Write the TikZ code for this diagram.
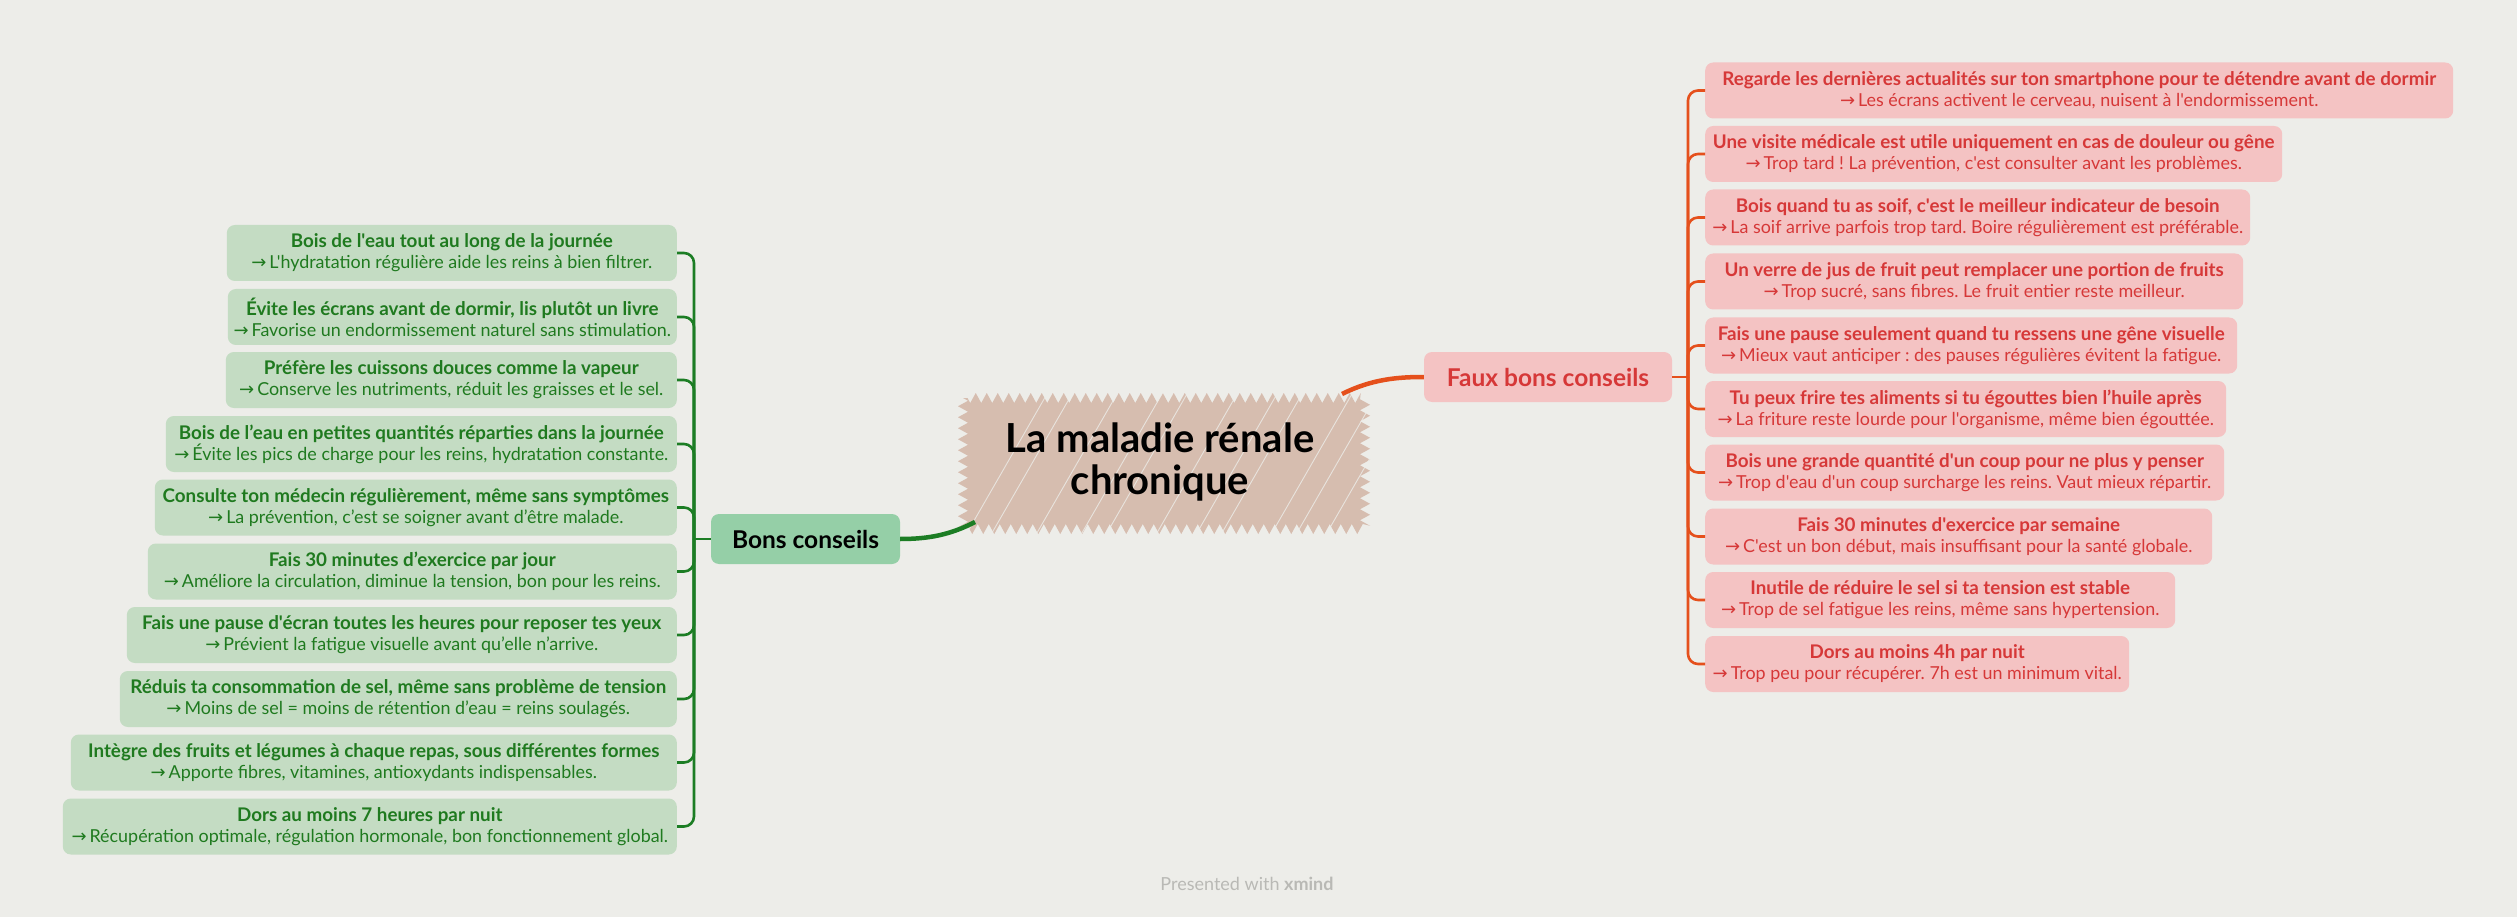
\documentclass[tikz,border=0pt]{standalone}
\usepackage{fontspec}
\setmainfont{Lato}[Ligatures=TeXOff]
\newfontfamily\arrfont{DejaVu Sans}
\usetikzlibrary{decorations.pathmorphing,calc}
\definecolor{bgc}{HTML}{EDEDE9}
\definecolor{gfill}{HTML}{C4DCC3}
\definecolor{gtext}{HTML}{1F7A1F}
\definecolor{bonsfill}{HTML}{95CFA7}
\definecolor{gline}{HTML}{1C7D24}
\definecolor{rfill}{HTML}{F4C3C3}
\definecolor{rtext}{HTML}{D63838}
\definecolor{rline}{HTML}{E5501C}
\definecolor{topicfill}{HTML}{D6BDAF}
\definecolor{footc}{HTML}{B9B9B5}
\frenchspacing
\newcommand{\arr}{{\arrfont\fontsize{18}{21}\selectfont →}}
\newcommand{\lv}[2]{{\fontsize{18.8}{21}\selectfont\bfseries #1}\\\arr\,#2}
\begin{document}
\begin{tikzpicture}[x=1pt,y=-1pt,
  leaf/.style={rounded corners=8pt, minimum height=56pt, inner sep=0pt, align=center,
    font=\fontsize{17.9}{21}\selectfont},
  gleaf/.style={leaf, fill=gfill, text=gtext, anchor=east},
  rleaf/.style={leaf, fill=rfill, text=rtext, anchor=west},
  mainbr/.style={rounded corners=8pt, minimum height=50pt, inner sep=0pt,
    font=\fontsize{24.5}{28}\selectfont\bfseries},
  gconn/.style={draw=gline, line width=2.6pt, rounded corners=10pt},
  rconn/.style={draw=rline, line width=2.6pt, rounded corners=10pt},
  gmain/.style={draw=gline, line width=4.5pt},
  rmain/.style={draw=rline, line width=4.5pt},
]
\useasboundingbox (0,0) rectangle (2517,917);
\fill[bgc] (0,0) rectangle (2517,917);

% central topic scribble
\fill[topicfill, decorate, decoration={zigzag, segment length=11pt, amplitude=5pt}]
  (963,398) rectangle (1365,529);
\begin{scope}
  \clip (955,390) rectangle (1375,537);
  \foreach \x in {960,985,1030,1075,1100,1150,1190,1215,1265,1290,1320}
    \draw[bgc, line width=0.9pt, opacity=0.8] (\x,545) -- ++(95,-165);
\end{scope}
\node[align=center, font=\fontsize{40}{42}\selectfont\bfseries, text=black]
  (topic) at (1160,462) {La maladie rénale\\chronique};

% main branches
\node[mainbr, fill=bonsfill, text=black, minimum width=189pt] (bons) at (805.5,539) {Bons conseils};
\node[mainbr, fill=rfill, text=rtext, minimum width=248pt] (faux) at (1548,377) {Faux bons conseils};

\coordinate (tg) at (975,522);
\coordinate (tr) at (1342,394);
\draw[gmain] (tg) .. controls (950,535) and (928,539) .. (bons.east);
\draw[rmain] (tr) .. controls (1372,379) and (1398,377) .. (faux.west);

% green leaves
\node[gleaf, minimum width=450pt] (g1) at (677,253) {\lv{Bois de l'eau tout au long de la journée}{L'hydratation régulière aide les reins à bien filtrer.}};
\node[gleaf, minimum width=449pt] (g2) at (677,317) {\lv{Évite les écrans avant de dormir, lis plutôt un livre}{Favorise un endormissement naturel sans stimulation.}};
\node[gleaf, minimum width=451pt] (g3) at (677,380) {\lv{Préfère les cuissons douces comme la vapeur}{Conserve les nutriments, réduit les graisses et le sel.}};
\node[gleaf, minimum width=511pt] (g4) at (677,444) {\lv{Bois de l’eau en petites quantités réparties dans la journée}{Évite les pics de charge pour les reins, hydratation constante.}};
\node[gleaf, minimum width=522pt] (g5) at (677,507.5) {\lv{Consulte ton médecin régulièrement, même sans symptômes}{La prévention, c’est se soigner avant d’être malade.}};
\node[gleaf, minimum width=529pt] (g6) at (677,571.5) {\lv{Fais 30 minutes d’exercice par jour}{Améliore la circulation, diminue la tension, bon pour les reins.}};
\node[gleaf, minimum width=550pt] (g7) at (677,635) {\lv{Fais une pause d'écran toutes les heures pour reposer tes yeux}{Prévient la fatigue visuelle avant qu’elle n’arrive.}};
\node[gleaf, minimum width=557pt] (g8) at (677,699) {\lv{Réduis ta consommation de sel, même sans problème de tension}{Moins de sel = moins de rétention d’eau = reins soulagés.}};
\node[gleaf, minimum width=606pt] (g9) at (677,762.5) {\lv{Intègre des fruits et légumes à chaque repas, sous différentes formes}{Apporte fibres, vitamines, antioxydants indispensables.}};
\node[gleaf, minimum width=614pt] (g10) at (677,826.5) {\lv{Dors au moins 7 heures par nuit}{Récupération optimale, régulation hormonale, bon fonctionnement global.}};

% red leaves
\node[rleaf, minimum width=748pt] (r1) at (1705,90.5) {\lv{Regarde les dernières actualités sur ton smartphone pour te détendre avant de dormir}{Les écrans activent le cerveau, nuisent à l'endormissement.}};
\node[rleaf, minimum width=577pt] (r2) at (1705,154) {\lv{Une visite médicale est utile uniquement en cas de douleur ou gêne}{Trop tard ! La prévention, c'est consulter avant les problèmes.}};
\node[rleaf, minimum width=545pt] (r3) at (1705,217.5) {\lv{Bois quand tu as soif, c'est le meilleur indicateur de besoin}{La soif arrive parfois trop tard. Boire régulièrement est préférable.}};
\node[rleaf, minimum width=538pt] (r4) at (1705,281.5) {\lv{Un verre de jus de fruit peut remplacer une portion de fruits}{Trop sucré, sans fibres. Le fruit entier reste meilleur.}};
\node[rleaf, minimum width=532pt] (r5) at (1705,345.5) {\lv{Fais une pause seulement quand tu ressens une gêne visuelle}{Mieux vaut anticiper : des pauses régulières évitent la fatigue.}};
\node[rleaf, minimum width=521pt] (r6) at (1705,409) {\lv{Tu peux frire tes aliments si tu égouttes bien l’huile après}{La friture reste lourde pour l'organisme, même bien égouttée.}};
\node[rleaf, minimum width=519pt] (r7) at (1705,472.5) {\lv{Bois une grande quantité d'un coup pour ne plus y penser}{Trop d'eau d'un coup surcharge les reins. Vaut mieux répartir.}};
\node[rleaf, minimum width=507pt] (r8) at (1705,536.5) {\lv{Fais 30 minutes d'exercice par semaine}{C'est un bon début, mais insuffisant pour la santé globale.}};
\node[rleaf, minimum width=470pt] (r9) at (1705,600) {\lv{Inutile de réduire le sel si ta tension est stable}{Trop de sel fatigue les reins, même sans hypertension.}};
\node[rleaf, minimum width=424pt] (r10) at (1705,664) {\lv{Dors au moins 4h par nuit}{Trop peu pour récupérer. 7h est un minimum vital.}};

% trunks
\coordinate (gT) at (694,539);
\coordinate (rT) at (1688,377);
\draw[gline, line width=2.6pt] (bons.west) -- (gT);
\draw[rline, line width=2.6pt] (faux.east) -- (rT);
\foreach \i in {1,...,10} {
  \draw[gconn] (gT) |- (g\i.east);
  \draw[rconn] (rT) |- (r\i.west);
}

% footer
\node[text=footc, font=\fontsize{18}{22}\selectfont] (foot) at (1247,884) {Presented with \textbf{xmind}};
\end{tikzpicture}
\end{document}
